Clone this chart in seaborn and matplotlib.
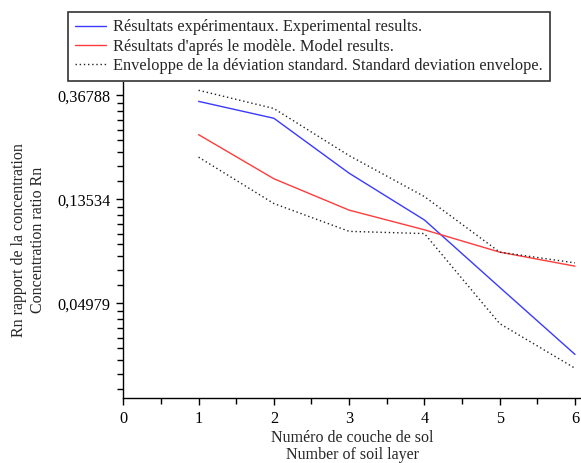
import numpy as np
import pandas as pd
import matplotlib
matplotlib.use("Agg")
import matplotlib.pyplot as plt
from matplotlib.ticker import FixedLocator, FixedFormatter
import seaborn as sns

# Soil layer numbers and concentration ratios
layers = [1, 2, 3, 4, 5, 6]
experimental = [0.347, 0.295, 0.174, 0.111, 0.0581, 0.0305]
model = [0.252, 0.165, 0.122, 0.101, 0.0815, 0.0712]
envelope_upper = [0.386, 0.324, 0.206, 0.139, 0.0815, 0.0735]
envelope_lower = [0.203, 0.130, 0.0995, 0.0974, 0.0410, 0.0267]

# Tick values on the log axis: powers of e
ytick_values = [np.exp(-1), np.exp(-2), np.exp(-3)]
ytick_labels = ["0,36788", "0,13534", "0,04979"]
xtick_values = [0, 1, 2, 3, 4, 5, 6]

sns.set_style("ticks")
plt.rcParams["font.family"] = ["Liberation Serif", "DejaVu Serif"]

fig = plt.figure(figsize=(5.81, 4.63), dpi=100)
W, H = 581, 463
ax = fig.add_axes([123.3 / W, 1 - 398.3 / H, 1 - 123.3 / W, (398.3 - 82) / H])

df = pd.DataFrame({
    "layer": layers,
    "exp": experimental,
    "model": model,
    "up": envelope_upper,
    "low": envelope_lower,
})

sns.lineplot(data=df, x="layer", y="exp", ax=ax, color="#3a3aff", lw=1.0,
             label="Résultats expérimentaux. Experimental results.")
sns.lineplot(data=df, x="layer", y="model", ax=ax, color="#ff3c3c", lw=1.0,
             label="Résultats d'aprés le modèle. Model results.")
sns.lineplot(data=df, x="layer", y="up", ax=ax, color="#222222", lw=1.0,
             linestyle=(0, (1, 2)),
             label="Enveloppe de la déviation standard. Standard deviation envelope.")
sns.lineplot(data=df, x="layer", y="low", ax=ax, color="#222222", lw=1.0,
             linestyle=(0, (1, 2)), label="_nolegend_")

ax.set_yscale("log")
ax.set_ylim(0.0200, 0.418)
ax.set_xlim(0, 6.08)

# Major ticks at e^-k, minor ticks split each interval linearly into 9 steps
ax.yaxis.set_major_locator(FixedLocator(ytick_values))
ax.yaxis.set_major_formatter(FixedFormatter(ytick_labels))
minor = []
for k in range(1, 4):
    hi, lo = np.exp(-k), np.exp(-(k + 1))
    minor += list(np.linspace(lo, hi, 10)[1:-1])
ax.yaxis.set_minor_locator(FixedLocator(minor))
ax.yaxis.set_minor_formatter(FixedFormatter([""] * len(minor)))

ax.xaxis.set_major_locator(FixedLocator(xtick_values))
ax.xaxis.set_minor_locator(FixedLocator([0.5, 1.5, 2.5, 3.5, 4.5, 5.5]))

for s in ["top", "right"]:
    ax.spines[s].set_visible(False)
for s in ["left", "bottom"]:
    ax.spines[s].set_linewidth(1.0)
    ax.spines[s].set_color("black")

ax.tick_params(axis="both", which="major", length=5, width=1.0, color="black",
               labelsize=11.7, pad=4, labelcolor="black")
ax.tick_params(axis="both", which="minor", length=4, width=1.0, color="black")

ax.set_xlabel("Numéro de couche de sol\nNumber of soil layer", fontsize=11.5,
              linespacing=1.12, labelpad=2)
ax.set_ylabel("Rn rapport de la concentration\nConcentration ratio Rn", fontsize=11.5,
              linespacing=1.25, labelpad=8)

ax.get_legend().remove()
handles, labels = ax.get_legend_handles_labels()
leg = fig.legend(handles, labels, loc="upper left",
                 bbox_to_anchor=(68 / W, 1 - 12 / H), fontsize=11.8,
                 frameon=True, fancybox=False, framealpha=1, edgecolor="#333333",
                 handlelength=1.85, handletextpad=0.45, labelspacing=0.2,
                 borderpad=0.45, borderaxespad=0)
leg.get_frame().set_linewidth(1.2)

fig.savefig("out.png", dpi=100, facecolor="white")
